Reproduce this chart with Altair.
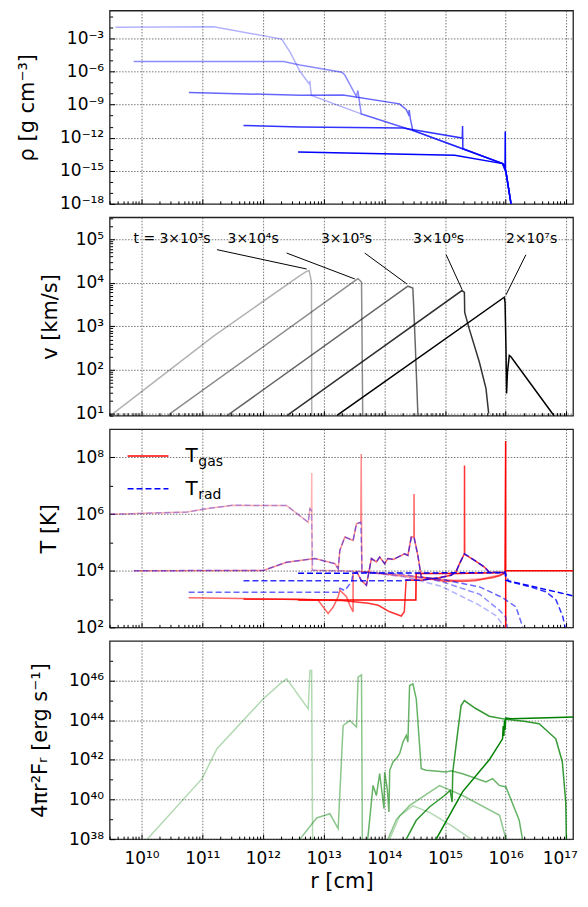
import altair as alt
import pandas as pd

# ---------------- values (log10 units) ----------------
ALPHA = [0.3, 0.45, 0.6, 0.8, 1.0]
TIME_LABELS = ["t = 3×10³s", "3×10⁴s", "3×10⁵s", "3×10⁶s", "2×10⁷s"]

# panel 1: density, log10 r [cm] / log10 rho [g cm^-3]
rho_env_r = [13.62, 14.47, 15.29, 15.95, 16.005, 16.087, 16.10]
rho_env = [-9.84, -11.34, -13.0, -14.35, -15.1, -17.96, -18.6]
rho1_r = [9.57, 11.19, 12.31, 12.45, 12.61, 12.76, 12.775, 12.785, 12.80]
rho1 = [-1.98, -1.94, -3.06, -4.26, -5.98, -7.1, -6.86, -7.6, -8.18]
rho2_r = [9.87, 12.34, 12.61, 13.30, 13.35, 13.54, 13.565, 13.58]
rho2 = [-5.08, -5.10, -5.41, -6.07, -6.32, -8.27, -7.72, -8.33]
rho3_r = [10.78, 12.61, 13.32, 14.25, 14.36, 14.40, 14.41, 14.43]
rho3 = [-7.90, -8.15, -8.12, -8.93, -9.44, -9.9, -9.5, -10.3]
rho4_r = [11.68, 12.61, 14.31, 15.285, 15.29, 15.295]
rho4 = [-10.89, -11.04, -11.13, -12.03, -10.95, -13.0]
rho5_r = [12.58, 15.16, 15.95, 15.99, 15.993, 15.996]
rho5 = [-13.30, -13.60, -14.35, -14.6, -11.43, -14.8]

# panel 2: velocity, log10 v [km/s]
v1_r = [9.49, 9.573, 11.187, 12.61, 12.72, 12.76, 12.785, 12.80, 12.805]
v1 = [0.95, 1.04, 2.776, 4.163, 4.26, 4.28, 4.12, 4.01, 0.9]
v2_r = [10.44, 10.476, 13.53, 13.565, 13.60, 13.625, 13.645]
v2 = [0.95, 1.0, 4.06, 4.09, 4.05, 4.01, 0.9]
v3_r = [11.41, 11.461, 14.389, 14.47, 14.48, 14.51, 14.553, 14.56]
v3 = [0.95, 1.0, 3.92, 3.88, 3.6, 2.6, 1.0, 0.9]
v4_r = [12.40, 12.447, 15.28, 15.32, 15.325, 15.40, 15.566, 15.676, 15.72]
v4 = [0.95, 1.0, 3.82, 3.78, 3.32, 2.94, 2.18, 1.57, 1.0]
v5_r = [13.22, 13.268, 15.977, 15.99, 16.005, 16.015, 16.03, 16.06, 16.087, 16.77, 16.80]
v5 = [0.95, 1.0, 3.667, 3.55, 2.5, 1.457, 1.95, 2.33, 2.30, 1.0, 0.95]
lab_r = [10.503, 11.839, 13.378, 14.893, 16.428]
lab_v = [5.0, 5.0, 5.0, 5.0, 5.0]
lead_r1 = [11.243, 12.392, 13.678, 15.02, 16.333]
lead_v1 = [4.758, 4.68, 4.68, 4.64, 4.64]
lead_r2 = [12.721, 13.514, 14.373, 15.282, 16.005]
lead_v2 = [4.314, 4.086, 3.97, 3.843, 3.72]

# panel 3: temperature, log10 T [K]
t1_in_r = [9.49, 10.75, 11.1, 11.51, 12.39, 12.747, 12.775, 12.80]
t1_in = [5.99, 6.07, 6.2, 6.31, 6.30, 5.71, 6.19, 6.13]
t1_gas_r = t1_in_r + [12.805, 12.81, 13.3, 13.6, 14.3, 15.0, 15.6, 15.95, 16.0]
t1_gas = t1_in + [7.45, 4.02, 4.0, 3.97, 3.8, 3.65, 3.72, 3.88, 3.95]
t1_rad_r = t1_in_r + [12.82, 13.6, 14.3, 14.94, 15.57, 15.85, 15.98]
t1_rad = t1_in + [4.02, 3.97, 3.8, 3.45, 2.78, 2.4, 2.0]

t2_in_r = [9.874, 12.008, 12.39, 12.857, 13.186, 13.24, 13.268, 13.35, 13.486, 13.542, 13.612]
t2_in = [4.0, 4.01, 4.3, 4.43, 4.25, 4.07, 4.72, 5.19, 5.07, 5.66, 5.71]
t2_gas_r = t2_in_r + [13.62, 13.63, 14.5, 15.3, 15.8, 15.99]
t2_gas = t2_in + [8.12, 3.97, 3.8, 3.62, 3.75, 3.9]
t2_rad_r = t2_in_r + [13.634, 14.3, 14.94, 15.57, 15.9, 16.0, 16.03]
t2_rad = t2_in + [3.96, 3.88, 3.62, 3.17, 2.6, 2.37, 2.0]

t3_sh_r = [13.486, 13.55, 13.62, 13.706, 13.788, 13.87, 13.924, 14.006, 14.06, 14.15,
           14.225, 14.335, 14.389, 14.445, 14.488]
t3_sh = [3.9, 3.95, 3.66, 3.49, 4.43, 4.31, 4.48, 4.25, 4.43, 4.4, 4.48, 4.6, 4.54, 5.19, 5.19]
t3_gas_r = ([10.777, 12.2, 12.91, 13.075, 13.158, 13.213, 13.24, 13.268, 13.378, 13.432, 13.486]
            + t3_sh_r + [14.49, 14.495, 14.553, 14.609, 15.0, 15.5, 15.9, 16.0])
t3_gas = ([3.05, 3.0, 2.96, 2.49, 2.72, 2.96, 3.08, 3.31, 3.08, 2.78, 2.55]
          + t3_sh + [6.71, 5.15, 4.54, 3.78, 3.62, 3.65, 3.82, 3.95])
t3_rad_r = ([10.777, 13.24, 13.27, 13.35, 13.46] + t3_sh_r
            + [14.553, 14.609, 14.94, 15.57, 15.95, 16.17, 16.28])
t3_rad = ([3.24, 3.24, 3.38, 3.3, 3.61] + t3_sh
          + [4.54, 3.78, 3.7, 3.43, 3.05, 2.72, 2.02])

t4_rev_r = [14.36, 14.609, 14.90, 15.10, 15.18, 15.24, 15.32]
t4_rev = [3.67, 3.66, 3.75, 3.84, 3.95, 4.25, 4.6]
t4_fwd_r = [15.5, 15.65, 15.73, 15.95]
t4_fwd = [4.35, 4.13, 3.95, 3.93]
t4_gas_r = ([11.68, 12.61, 13.30, 13.74, 13.90, 14.09, 14.28, 14.33] + t4_rev_r
            + [15.322, 15.325] + t4_fwd_r + [16.0])
t4_gas = ([2.99, 2.99, 2.95, 2.85, 2.78, 2.55, 2.40, 2.55] + t4_rev
          + [7.71, 4.58] + t4_fwd + [3.95])
t4_rad_r = ([11.68, 14.30] + t4_rev_r + t4_fwd_r
            + [16.0, 16.05, 16.39, 16.66, 16.83, 16.94, 16.98])
t4_rad = ([3.65, 3.65] + t4_rev + t4_fwd
          + [3.9, 3.62, 3.44, 3.26, 2.97, 2.39, 2.0])

t5_gas_r = [12.58, 14.52, 14.525, 15.2, 15.8, 15.99, 16.0, 16.0, 16.0, 17.2]
t5_gas = [2.97, 2.97, 3.9, 3.9, 3.93, 3.95, 8.58, 1.5, 4.0, 4.0]
t5_rad_r = [12.58, 15.90, 15.99, 16.005, 17.2]
t5_rad = [3.91, 3.93, 3.97, 3.66, 3.07]

# panel 4: luminosity, log10 4 pi r^2 F_r [erg/s]
L1_r = [10.05, 10.094, 10.997, 11.243, 12.008, 12.282, 12.392, 12.747, 12.775, 12.803, 12.82,
        13.5, 14.089, 14.253, 14.47, 14.745, 15.1, 15.43, 15.5]
L1 = [37.8, 38.0, 41.05, 42.56, 45.08, 45.83, 46.08, 44.57, 46.5, 46.5, 37.0,
      36.5, 38.0, 39.17, 39.68, 39.35, 38.7, 38.0, 37.7]
L2_r = [12.55, 12.61, 12.885, 13.103, 13.24, 13.322, 13.432, 13.542, 13.568, 13.624, 13.64,
        13.9, 14.06, 14.2, 14.42, 14.91, 15.29, 15.9, 16.005, 16.05]
L2 = [37.7, 38.0, 39.07, 39.28, 38.53, 43.73, 43.98, 43.65, 46.17, 46.28, 37.0,
      36.5, 38.0, 39.0, 39.7, 40.7, 40.2, 39.2, 38.0, 37.5]
L3_r = [13.70, 13.732, 13.815, 13.87, 13.924, 13.969, 13.995, 14.006, 14.05, 14.077, 14.089,
        14.143, 14.199, 14.253, 14.308, 14.363, 14.389, 14.417, 14.471, 14.527, 14.609, 14.691,
        15.02, 15.10, 15.292, 15.676, 15.785, 15.895, 16.005, 16.223, 16.277, 16.3]
L3 = [37.5, 38.15, 40.71, 40.2, 41.3, 40.2, 39.54, 41.38, 40.5, 39.37, 41.47,
      41.89, 42.06, 42.31, 42.9, 43.23, 42.9, 45.75, 45.83, 45.08, 41.55, 41.47,
      41.38, 41.45, 41.3, 40.88, 41.05, 40.71, 40.63, 38.95, 38.0, 37.7]
L4_r = [14.33, 14.363, 14.527, 14.745, 14.992, 15.085, 15.118, 15.128, 15.21, 15.266, 15.32,
        15.5, 15.73, 16.005, 16.3, 16.552, 16.826, 16.934, 16.99, 17.0, 17.02]
L4 = [37.7, 38.0, 38.95, 39.62, 40.2, 40.46, 39.87, 41.38, 43.4, 44.74, 44.99,
      44.6, 44.2, 44.04, 43.95, 43.82, 43.06, 41.89, 39.87, 38.0, 37.5]
L5_r = [14.80, 14.855, 15.292, 15.73, 15.949, 15.96, 15.97, 15.98, 15.99, 16.0, 16.1, 16.4, 16.7, 17.2]
L5 = [37.7, 38.0, 40.4, 42.0, 43.06, 43.7, 43.2, 44.0, 43.5, 44.1, 44.07, 44.1, 44.12, 44.17]

# ---------------- layout / style ----------------
W, H, H1 = 465, 199, 194
XDOM = [10 ** 9.4745, 10 ** 17.11]
FONT = "DejaVu Sans"
LAB_FS, TIT_FS = 17, 21
GRID = dict(grid=True, gridColor="#555", gridDash=[1.5, 1.5], gridWidth=0.8)
SUP = str.maketrans("0123456789-", "⁰¹²³⁴⁵⁶⁷⁸⁹⁻")


def pw(e):
    return "10" + str(e).translate(SUP)


def label_expr(exps, step):
    arr = ",".join("'%s'" % pw(e) for e in exps)
    return "[%s][round(log(datum.value)/LN10/%d) - (%d)]" % (arr, step, exps[0] // step)


def in_dom(vals, dom):
    return [v for v in vals if dom[0] * 0.999 <= v <= dom[1] * 1.001]


XMAJ = [10.0 ** e for e in range(10, 18)]
XMIN = in_dom([k * 10.0 ** e for e in range(9, 18) for k in range(2, 10)], XDOM)
XLAB = label_expr(list(range(10, 18)), 1)


def frame(curves):
    rows = []
    for name, alpha, lr, ly in curves:
        for i, (a, b) in enumerate(zip(lr, ly)):
            rows.append({"curve": name, "alpha": alpha, "i": i, "r": 10.0 ** a, "y": 10.0 ** b})
    return pd.DataFrame(rows)


def lines(df, color, xs, ys, dash=None, width=1.5):
    kw = dict(clip=True, strokeWidth=width, color=color)
    if dash:
        kw["strokeDash"] = dash
    return alt.Chart(df).mark_line(**kw).encode(
        x=alt.X("r:Q", scale=xs, axis=None),
        y=alt.Y("y:Q", scale=ys, axis=None),
        detail="curve:N",
        order="i:Q",
        strokeOpacity=alt.StrokeOpacity("alpha:Q", scale=None),
    )


def panel(df, layers, ydom, ymaj, ymin, yexps, ystep, ytitle, h, bottom, ext):
    xs = alt.Scale(type="log", domain=XDOM)
    ys = alt.Scale(type="log", domain=ydom)
    xaxis_kw = dict(orient="bottom", values=XMAJ, ticks=False, domain=False, labels=bottom, **GRID)
    if bottom:
        xaxis_kw.update(labelExpr=XLAB, labelFontSize=LAB_FS, labelPadding=11,
                        labelFlush=7, labelFlushOffset=11,
                        titleFontSize=TIT_FS, titleFontWeight="normal", titlePadding=5)
    main = alt.Chart(df).mark_line(strokeOpacity=0).encode(
        x=alt.X("r:Q", scale=xs, title="r [cm]" if bottom else None, axis=alt.Axis(**xaxis_kw)),
        y=alt.Y("y:Q", scale=ys, title=ytitle,
                axis=alt.Axis(orient="left", values=ymaj, ticks=False, domain=False,
                              labelExpr=label_expr(yexps, ystep), labelFontSize=LAB_FS,
                              labelPadding=6, titleFontSize=TIT_FS, titleFontWeight="normal",
                              titlePadding=8, minExtent=ext, maxExtent=ext, **GRID)),
        detail="curve:N",
    )
    tick_layers = []
    for xv, yv, size in [(XMAJ, ymaj, 5), (XMIN, ymin, 3)]:
        tick_layers.append(alt.Chart(df).mark_line(strokeOpacity=0).encode(
            x=alt.X("r:Q", scale=xs, title=None,
                    axis=alt.Axis(orient="top", offset=-h, values=xv, labels=False, grid=False,
                                  domain=False, ticks=True, tickSize=size, tickColor="#000",
                                  tickWidth=1)),
            y=alt.Y("y:Q", scale=ys, title=None,
                    axis=alt.Axis(orient="right", offset=-W, values=yv, labels=False, grid=False,
                                  domain=False, ticks=True, tickSize=size, tickColor="#000",
                                  tickWidth=1)),
            detail="curve:N",
        ))
    built = [f(xs, ys) for f in layers]
    return alt.layer(main, *built, *tick_layers).resolve_axis(
        x="independent", y="independent").properties(width=W, height=h)


# ---- panel 1 ----
D1 = [1e-18, 10 ** -0.47]
rho_df = frame([
    ("1", ALPHA[0], rho1_r + rho_env_r, rho1 + rho_env),
    ("2", ALPHA[1], rho2_r + rho_env_r, rho2 + rho_env),
    ("3", ALPHA[2], rho3_r + rho_env_r[1:], rho3 + rho_env[1:]),
    ("4", ALPHA[3], rho4_r + rho_env_r[3:], rho4 + rho_env[3:]),
    ("5", ALPHA[4], rho5_r + rho_env_r[4:], rho5 + rho_env[4:]),
])
p1 = panel(rho_df, [lambda xs, ys: lines(rho_df, "blue", xs, ys)], D1,
           [10.0 ** e for e in range(-18, -2, 3)],
           in_dom([10.0 ** e for e in range(-17, 0) if e % 3], D1),
           list(range(-18, -2, 3)), 3, "ρ [g cm⁻³]", H1, False, 64)

# ---- panel 2 ----
D2 = [10 ** 0.95, 10 ** 5.5]
v_df = frame([
    ("1", ALPHA[0], v1_r, v1), ("2", ALPHA[1], v2_r, v2), ("3", ALPHA[2], v3_r, v3),
    ("4", ALPHA[3], v4_r, v4), ("5", ALPHA[4], v5_r, v5),
])
lab_df = pd.DataFrame({"r": [10 ** a for a in lab_r], "y": [10 ** b for b in lab_v],
                       "label": TIME_LABELS})
lead_df = pd.DataFrame({"r1": [10 ** a for a in lead_r1], "r2": [10 ** a for a in lead_r2],
                        "y1": [10 ** a for a in lead_v1], "y2": [10 ** a for a in lead_v2]})


def v_text(xs, ys):
    return alt.Chart(lab_df).mark_text(fontSize=14, font=FONT, align="center",
                                       baseline="middle", color="black").encode(
        x=alt.X("r:Q", scale=xs, axis=None), y=alt.Y("y:Q", scale=ys, axis=None), text="label:N")


def v_lead(xs, ys):
    return alt.Chart(lead_df).mark_rule(color="black", strokeWidth=1).encode(
        x=alt.X("r1:Q", scale=xs, axis=None), x2="r2:Q",
        y=alt.Y("y1:Q", scale=ys, axis=None), y2="y2:Q")


p2 = panel(v_df, [lambda xs, ys: lines(v_df, "black", xs, ys), v_lead, v_text], D2,
           [10.0 ** e for e in range(1, 6)],
           in_dom([k * 10.0 ** e for e in range(0, 6) for k in range(2, 10)], D2),
           list(range(1, 6)), 1, "v [km/s]", H, False, 41)

# ---- panel 3 ----
D3 = [1e2, 1e9]
gas_df = frame([
    ("1", ALPHA[0], t1_gas_r, t1_gas), ("2", ALPHA[1], t2_gas_r, t2_gas),
    ("3", ALPHA[2], t3_gas_r, t3_gas), ("4", ALPHA[3], t4_gas_r, t4_gas),
    ("5", ALPHA[4], t5_gas_r, t5_gas),
])
rad_df = frame([
    ("1", ALPHA[0], t1_rad_r, t1_rad), ("2", ALPHA[1], t2_rad_r, t2_rad),
    ("3", ALPHA[2], t3_rad_r, t3_rad), ("4", ALPHA[3], t4_rad_r, t4_rad),
    ("5", ALPHA[4], t5_rad_r, t5_rad),
])
one = pd.DataFrame({"k": [0]})


def legend_layers(xs, ys):
    gl = alt.Chart(one).mark_rule(color="red", strokeWidth=1.5).encode(
        x=alt.value(18), x2=alt.value(59), y=alt.value(27))
    rl = alt.Chart(one).mark_rule(color="blue", strokeWidth=1.5, strokeDash=[6, 3]).encode(
        x=alt.value(18), x2=alt.value(59), y=alt.value(60))
    t1 = alt.Chart(one).mark_text(fontSize=20, font=FONT, align="left", baseline="middle").encode(
        x=alt.value(76), y=alt.value(27), text=alt.value("T"))
    s1 = alt.Chart(one).mark_text(fontSize=14, font=FONT, align="left", baseline="alphabetic").encode(
        x=alt.value(89), y=alt.value(37), text=alt.value("gas"))
    t2 = alt.Chart(one).mark_text(fontSize=20, font=FONT, align="left", baseline="middle").encode(
        x=alt.value(76), y=alt.value(60), text=alt.value("T"))
    s2 = alt.Chart(one).mark_text(fontSize=14, font=FONT, align="left", baseline="alphabetic").encode(
        x=alt.value(89), y=alt.value(70), text=alt.value("rad"))
    return alt.layer(gl, rl, t1, s1, t2, s2)


p3 = panel(gas_df, [lambda xs, ys: lines(gas_df, "red", xs, ys),
                    lambda xs, ys: lines(rad_df, "blue", xs, ys, dash=[6, 3]),
                    legend_layers], D3,
           [1e2, 1e4, 1e6, 1e8], [1e3, 1e5, 1e7],
           [2, 4, 6, 8], 2, "T [K]", H, False, 42)

# ---- panel 4 ----
D4 = [1e38, 1e48]
L_df = frame([
    ("1", ALPHA[0], L1_r, L1), ("2", ALPHA[1], L2_r, L2), ("3", ALPHA[2], L3_r, L3),
    ("4", ALPHA[3], L4_r, L4), ("5", ALPHA[4], L5_r, L5),
])
p4 = panel(L_df, [lambda xs, ys: lines(L_df, "green", xs, ys)], D4,
           [10.0 ** e for e in range(38, 47, 2)], [10.0 ** e for e in range(39, 48, 2)],
           list(range(38, 47, 2)), 2, "4πr²Fᵣ [erg s⁻¹]", H, True, 51)

chart = alt.vconcat(p1, p2, p3, p4, spacing=13.5, bounds="flush").properties(
    padding={"left": 8, "top": 0, "right": 0, "bottom": 0}
).configure(font=FONT).configure_view(stroke="#222", strokeWidth=1.3).configure_axis(
    labelColor="black", titleColor="black", labelFont=FONT, titleFont=FONT)

chart.save("out.html", embed_options={"renderer": "svg", "actions": False})
